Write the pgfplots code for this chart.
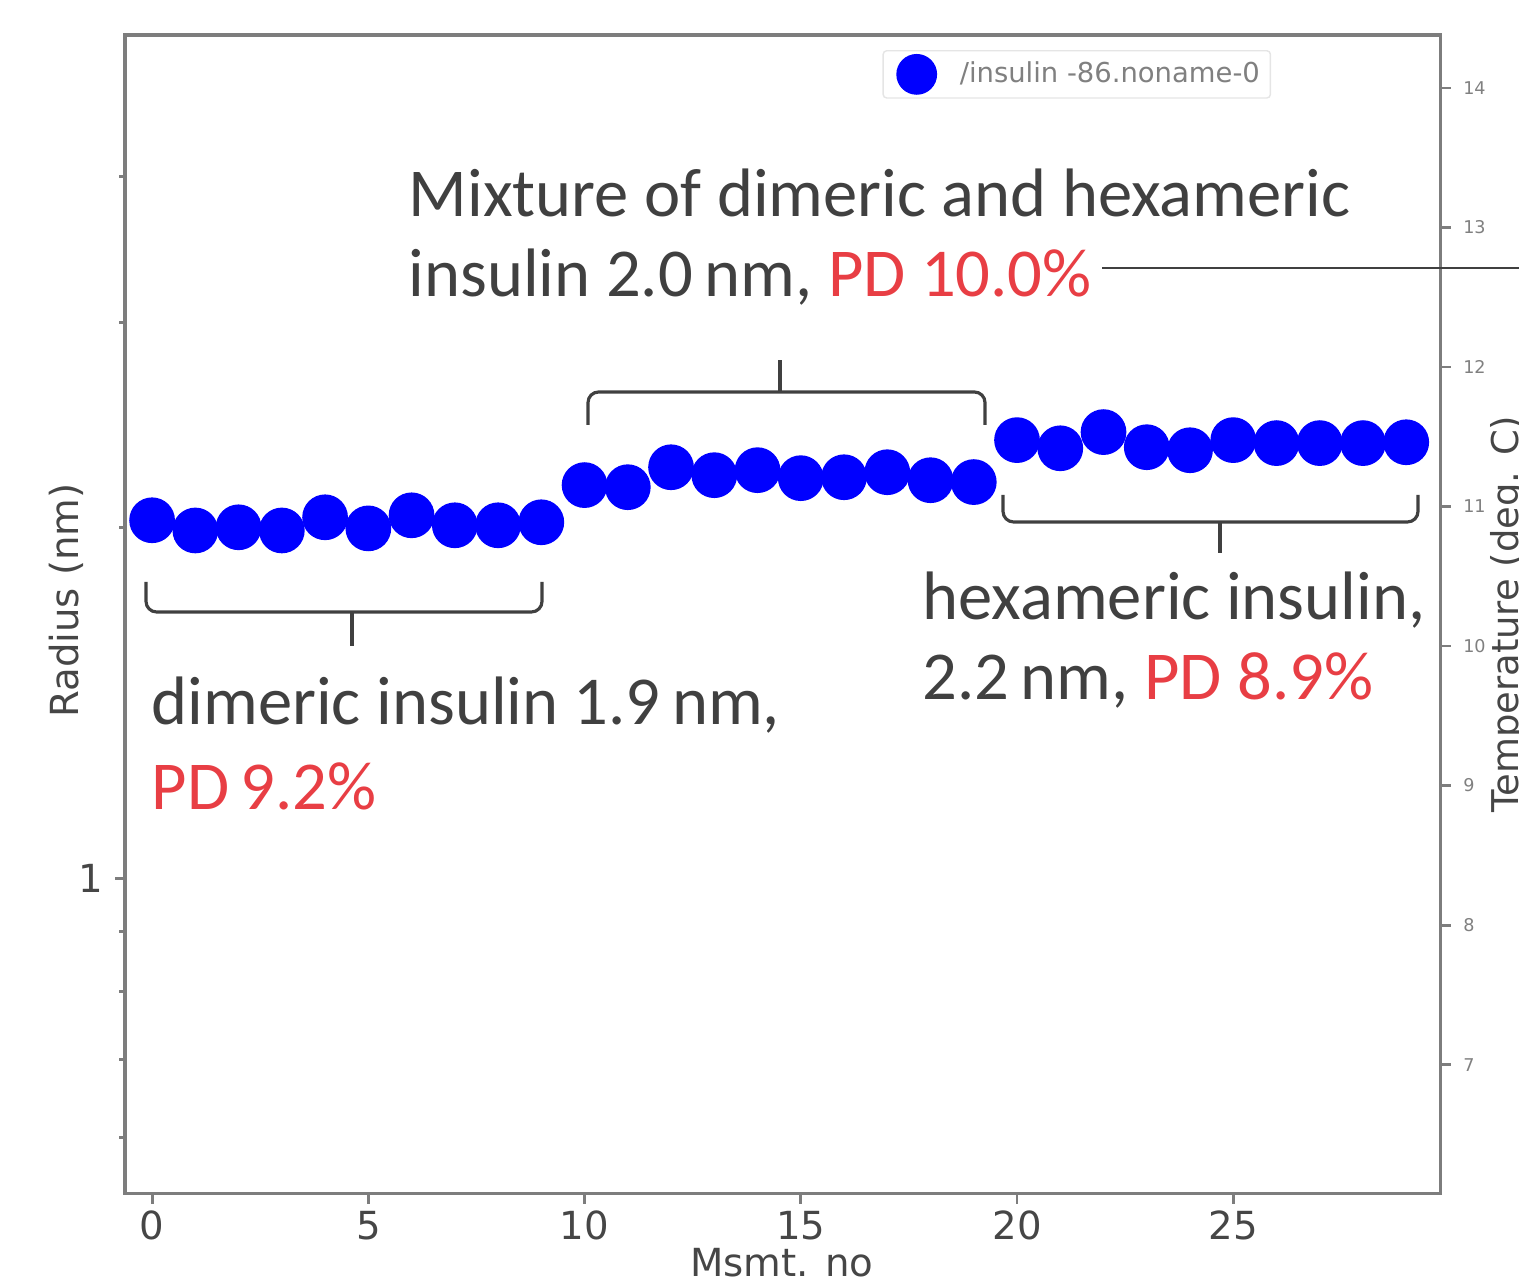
\documentclass[border=0pt]{standalone}
\usepackage{pgfplots}
\pgfplotsset{compat=1.18}
\usepackage{fontspec}
\setmainfont{DejaVu Sans}
\newfontfamily\calfont{Carlito}
\definecolor{dotblue}{RGB}{0,0,255}
\definecolor{pdred}{RGB}{232,62,68}
\definecolor{annot}{RGB}{64,64,64}
\definecolor{spine}{RGB}{125,125,125}
\definecolor{ticktext}{RGB}{70,70,70}

\pgfplotstableread{
x r
0 2.029
1 1.989
2 2.001
3 1.989
4 2.041
5 1.997
6 2.049
7 2.009
8 2.009
9 2.021
10 2.175
11 2.166
12 2.253
13 2.218
14 2.240
15 2.205
16 2.209
17 2.231
18 2.196
19 2.188
20 2.377
21 2.339
22 2.415
23 2.344
24 2.330
25 2.377
26 2.363
27 2.363
28 2.363
29 2.367
}\radius

\begin{document}
\begin{tikzpicture}
\begin{axis}[
    scale only axis,
    width=13.15cm, height=11.58cm,
    at={(0,0)}, anchor=south west,
    ymode=log,
    xmin=-0.625, xmax=29.8,
    ymin=0.5366, ymax=5.291,
    xtick={0,5,...,25},
    ytick={1}, yticklabels={1},
    minor ytick={0.6,0.7,0.8,0.9,2,3,4},
    xtick pos=bottom, ytick pos=left,
    tick align=outside,
    major tick length=0.1cm, minor tick length=0.06cm,
    axis line style={spine, line width=0.9pt},
    every tick/.style={spine, line width=0.8pt},
    /pgf/number format/assume math mode=true,
    tick label style={font=\fontsize{11}{13}\selectfont, text=ticktext},
    xticklabel style={yshift=0.05cm},
    xlabel={Msmt. no},
    xlabel style={at={(axis description cs:0.499,0)}, anchor=base, yshift=-0.83cm,
        font=\fontsize{11}{13}\selectfont, text=ticktext},
    ylabel={Radius (nm)},
    ylabel style={at={(axis description cs:-0.045,0.512)}, anchor=center,
        font=\fontsize{11}{13}\selectfont, text=ticktext},
    legend style={at={(0.871,0.987)}, anchor=north east, draw=gray!20,
        fill=white, font=\fontsize{7.8}{9}\selectfont, text=gray,
        rounded corners=1pt, inner xsep=1pt, inner ysep=1pt},
    legend image code/.code={%
        \path[draw=none] (-0.3cm,0cm) -- (0.36cm,0cm);
        \draw[#1, mark size=5.6pt] plot coordinates {(0cm,0cm)};},
    clip=false,
]
\addplot[only marks, mark=*, mark size=6.3pt, color=dotblue] table[x=x, y=r] {\radius};
\addlegendentry{/insulin -86.noname-0}
\end{axis}

\begin{axis}[
    scale only axis,
    width=13.15cm, height=11.58cm,
    at={(0,0)}, anchor=south west,
    axis x line=none, axis y line*=right,
    xmin=0, xmax=1,
    ymin=6.075, ymax=14.38,
    ytick={7,...,14},
    tick align=outside,
    major tick length=0.1cm,
    axis line style={spine, line width=0.9pt},
    every tick/.style={spine, line width=0.8pt},
    /pgf/number format/assume math mode=true,
    yticklabel style={font=\fontsize{5}{6}\selectfont, text=gray},
    ylabel={Temperature (deg. C)},
    ylabel style={at={(axis description cs:1.051,0.5)}, anchor=center,
        font=\fontsize{10.5}{12}\selectfont, text=ticktext},
]
\end{axis}

\begin{scope}[x=0.01cm, y=-0.01cm, shift={(-1.25cm,11.93cm)}]
% brackets
\draw[annot, line width=0.9pt, rounded corners=3pt] (146,582) -- (146,612) -- (542,612) -- (542,582);
\draw[annot, line width=0.9pt] (352,612) -- (352,646);
\draw[annot, line width=0.9pt, rounded corners=3pt] (588,425) -- (588,392) -- (985,392) -- (985,425);
\draw[annot, line width=0.9pt] (780,392) -- (780,360);
\draw[annot, line width=0.9pt, rounded corners=3pt] (1003,495) -- (1003,522) -- (1418,522) -- (1418,495);
\draw[annot, line width=0.9pt] (1220,522) -- (1220,553);
\draw[annot, line width=0.7pt] (1102,268) -- (1540,268);
% annotations
\begin{scope}[every node/.style={anchor=base west, inner sep=0pt, text=annot,
    font=\calfont\fontsize{19.5}{23}\selectfont}]
\node at (408,217) {Mixture of dimeric and hexameric};
\node at (408,297) {insulin 2.0\,nm, \textcolor{pdred}{PD 10.0\%}};
\node at (151,725) {dimeric insulin 1.9\,nm,};
\node at (151,810) {\textcolor{pdred}{PD\,9.2\%}};
\node at (922,620) {hexameric insulin,};
\node at (922,700) {2.2\,nm, \textcolor{pdred}{PD 8.9\%}};
\end{scope}
\pgfresetboundingbox
\path[use as bounding box] (0,0) rectangle (1519,1286);
\end{scope}
\end{tikzpicture}
\end{document}
